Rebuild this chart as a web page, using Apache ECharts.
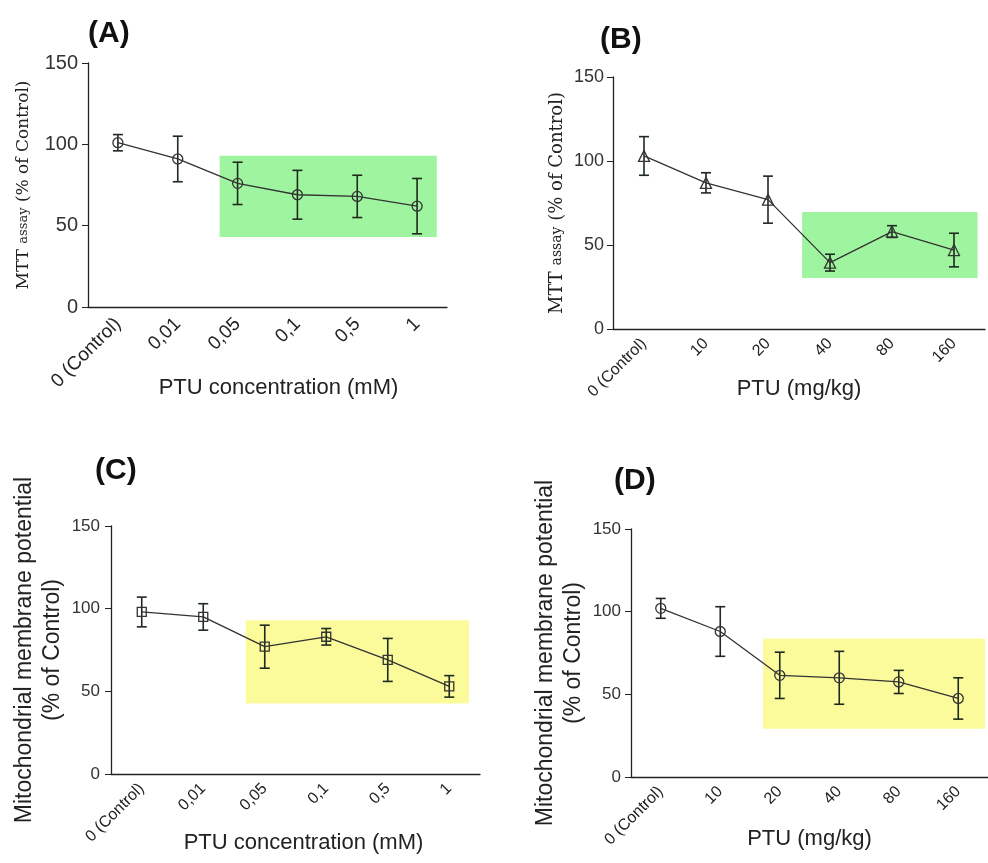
<!DOCTYPE html>
<html><head><meta charset="utf-8">
<script src="https://cdn.jsdelivr.net/npm/echarts@6/dist/echarts.min.js"></script>
<style>html,body{margin:0;padding:0;background:#fff}#c{width:988px;height:863px}</style>
</head><body><div id="c"></div>
<script>
// ---- data ----
var catsMM = ['0 (Control)', '0,01', '0,05', '0,1', '0,5', '1'];
var catsMG = ['0 (Control)', '10', '20', '40', '80', '160'];
var yTicks = [0, 50, 100, 150];

var meanA = [101, 91, 76, 69, 68, 62];
var errA  = [5, 14, 13, 15, 13, 17];
var boxA  = [1.7, 5.33, 43, 93];   // x from, x to (category index), y from, y to

var meanB = [103, 87, 77, 39.5, 58, 47];
var errB  = [11.5, 6, 14, 5, 3.5, 10];
var boxB  = [2.55, 5.38, 30.4, 69.6];

var meanC = [98, 95, 77, 83, 69, 53];
var errC  = [9, 8, 13, 5, 13, 6.5];
var boxC  = [1.69, 5.32, 42.7, 93];

var meanD = [102, 88, 61.5, 60, 57.5, 47.5];
var errD  = [6, 15, 14, 16, 7, 12.5];
var boxD  = [1.72, 5.45, 29.2, 83.7];

var panels = [
  {label:'(A)', cats:catsMM, mean:meanA, err:errA, box:boxA, boxColor:'#9ff59f', symbol:'circle', symSize:10,
   grid:{left:88, top:63, width:359, height:244}, yFont:20, yMargin:10, xFont:19, xMargin:14,
   xName:'PTU concentration (mM)', xGap:70, xPad:[0,0,0,22],
   yName:'{a|MTT }{b|assay}{a| (% of Control)}', yNameGap:56, yNameSerif:true, yNameSize:17, labelPos:[88,36]},
  {label:'(B)', cats:catsMG, mean:meanB, err:errB, box:boxB, boxColor:'#9ff59f', symbol:'triangle', symSize:11,
   grid:{left:613, top:77, width:372, height:252}, yFont:18, yMargin:9, xFont:16, xMargin:12,
   xName:'PTU (mg/kg)', xGap:49, xPad:[0,0,0,0],
   yName:'{a|MTT }{b|assay}{a| (% of Control)}', yNameGap:47, yNameSerif:true, yNameSize:18, labelPos:[600,42]},
  {label:'(C)', cats:catsMM, mean:meanC, err:errC, box:boxC, boxColor:'#fbfb9c', symbol:'rect', symSize:9,
   grid:{left:111, top:526, width:369, height:248}, yFont:17, yMargin:11, xFont:16, xMargin:12,
   xName:'PTU concentration (mM)', xGap:58, xPad:[0,0,0,16],
   yName:'Mitochondrial membrane potential\n(% of Control)', yNameGap:44, yNameSerif:false, yNameSize:23, labelPos:[95,473]},
  {label:'(D)', cats:catsMG, mean:meanD, err:errD, box:boxD, boxColor:'#fbfb9c', symbol:'circle', symSize:10,
   grid:{left:631, top:529, width:364, height:248}, yFont:17, yMargin:10, xFont:16, xMargin:12,
   xName:'PTU (mg/kg)', xGap:51, xPad:[0,0,0,0],
   yName:'Mitochondrial membrane potential\n(% of Control)', yNameGap:43, yNameSerif:false, yNameSize:23, labelPos:[614,483]}
];

var grids = [], xAxes = [], yAxes = [], series = [], graphics = [];
panels.forEach(function (p, i) {
  grids.push(p.grid);
  xAxes.push({
    type:'category', gridIndex:i, data:p.cats, boundaryGap:true,
    name:p.xName, nameLocation:'middle', nameGap:p.xGap, nameMoveOverlap:false,
    nameTextStyle:{fontFamily:'Liberation Sans, Arial', fontSize:22, color:'#222', verticalAlign:'top', padding:p.xPad},
    axisLine:{onZero:false, lineStyle:{color:'#222', width:1.3}},
    axisTick:{alignWithLabel:true, length:6, lineStyle:{color:'#222'}},
    axisLabel:{rotate:45, interval:0, margin:p.xMargin, fontFamily:'Liberation Sans, Arial', fontSize:p.xFont, color:'#222'},
    splitLine:{show:false}
  });
  xAxes.push({type:'value', gridIndex:i, min:-0.5, max:5.5, show:false});
  var nameStyle = p.yNameSerif ? {
      color:'#222',
      rich:{a:{fontFamily:'DejaVu Serif', fontSize:p.yNameSize, color:'#222'},
            b:{fontFamily:'DejaVu Serif', fontSize:p.yNameSize-4, color:'#222'}}
    } : {fontFamily:'Liberation Sans, Arial', fontSize:p.yNameSize, lineHeight:28, color:'#222'};
  yAxes.push({
    type:'value', gridIndex:i, min:yTicks[0], max:yTicks[yTicks.length-1], interval:yTicks[1]-yTicks[0],
    name:p.yName, nameLocation:'middle', nameRotate:90, nameGap:p.yNameGap, nameMoveOverlap:false, nameTextStyle:nameStyle,
    axisLine:{show:true, onZero:false, lineStyle:{color:'#222', width:1.3}},
    axisTick:{show:true, length:6, lineStyle:{color:'#222'}},
    axisLabel:{fontFamily:'Liberation Sans, Arial', fontSize:p.yFont, color:'#333', margin:p.yMargin},
    splitLine:{show:false}
  });
  // highlighted box
  series.push({
    type:'custom', xAxisIndex:2*i+1, yAxisIndex:i, z:1, silent:true,
    data:[p.box],
    renderItem:function (params, api) {
      var a = api.coord([api.value(0), api.value(2)]);
      var b = api.coord([api.value(1), api.value(3)]);
      return {type:'rect', shape:{x:a[0], y:b[1], width:b[0]-a[0], height:a[1]-b[1]},
              style:{fill:p.boxColor}};
    }
  });
  // error bars
  series.push({
    type:'custom', xAxisIndex:2*i, yAxisIndex:i, z:3, silent:true,
    data:p.mean.map(function (m, k) { return [k, m - p.err[k], m + p.err[k]]; }),
    renderItem:function (params, api) {
      var lo = api.coord([api.value(0), api.value(1)]);
      var hi = api.coord([api.value(0), api.value(2)]);
      var w = 5;
      var st = {stroke:'#1e2a1e', lineWidth:1.6};
      return {type:'group', children:[
        {type:'line', shape:{x1:lo[0], y1:lo[1], x2:hi[0], y2:hi[1]}, style:st},
        {type:'line', shape:{x1:lo[0]-w, y1:lo[1], x2:lo[0]+w, y2:lo[1]}, style:st},
        {type:'line', shape:{x1:hi[0]-w, y1:hi[1], x2:hi[0]+w, y2:hi[1]}, style:st}
      ]};
    }
  });
  // mean line
  series.push({
    type:'line', xAxisIndex:2*i, yAxisIndex:i, z:4, data:p.mean,
    symbol:p.symbol, symbolSize:p.symSize,
    lineStyle:{color:'#333', width:1.3},
    itemStyle:{color:'rgba(0,0,0,0)', borderColor:'#333', borderWidth:1.3},
    silent:true, animation:false
  });
  graphics.push({type:'text', left:p.labelPos[0], top:p.labelPos[1]-17,
    style:{text:p.label, font:'bold 30px "Liberation Sans", Arial', fill:'#111'}});
});

var chart = echarts.init(document.getElementById('c'));
chart.setOption({
  animation:false,
  backgroundColor:'#fff',
  grid:grids, xAxis:xAxes, yAxis:yAxes, series:series, graphic:graphics
});
</script></body></html>
